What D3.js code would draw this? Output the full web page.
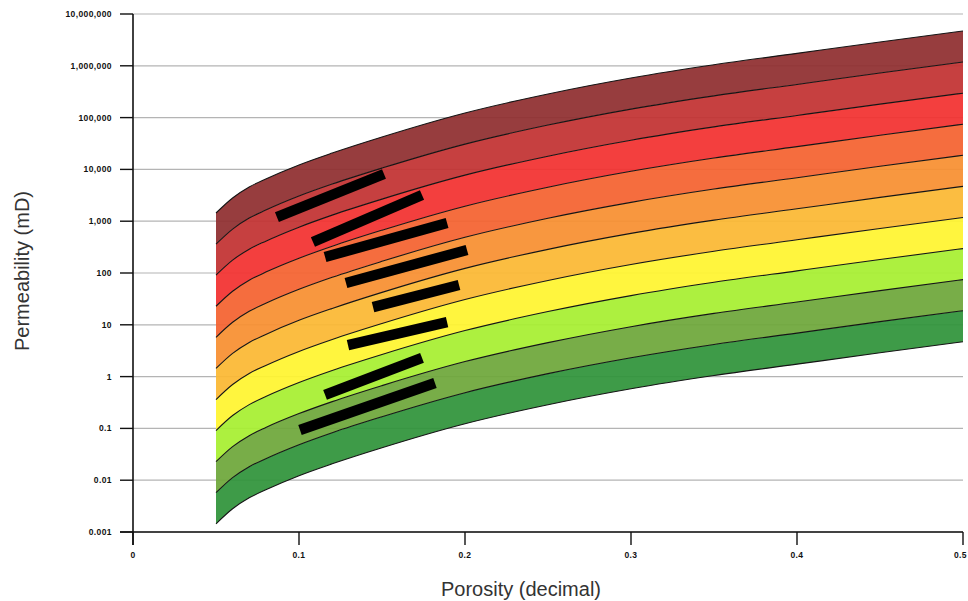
<!DOCTYPE html>
<html>
<head>
<meta charset="utf-8">
<script src="https://cdn.jsdelivr.net/npm/d3@7"></script>
<style>
body { margin: 0; background: #fff; }
</style>
</head>
<body>
<svg id="view" width="968" height="601"></svg>
<script>
// DATA
var POROSITY = [0.05, 0.06, 0.07, 0.08, 0.1, 0.12, 0.15, 0.2, 0.25, 0.3, 0.35, 0.4, 0.45, 0.5];

// permeability (mD) of each band boundary, top to bottom
var BOUNDARY_0 = [1440, 2810, 4570, 6530, 12200, 20700, 42300, 123000, 286000, 581000, 1047000, 1738000, 2884000, 4700000];
var BOUNDARY_1 = [361, 705, 1150, 1640, 3060, 5210, 10600, 30800, 71800, 146000, 263000, 437000, 724000, 1180000];
var BOUNDARY_2 = [90.8, 177, 288, 412, 767, 1310, 2670, 7750, 18000, 36600, 66100, 110000, 182000, 296000];
var BOUNDARY_3 = [22.8, 44.5, 72.4, 104, 193, 329, 670, 1950, 4530, 9200, 16600, 27500, 45700, 74500];
var BOUNDARY_4 = [5.73, 11.2, 18.2, 26.0, 48.4, 82.6, 168, 489, 1140, 2310, 4170, 6920, 11500, 18700];
var BOUNDARY_5 = [1.44, 2.81, 4.57, 6.53, 12.2, 20.7, 42.3, 123, 286, 581, 1047, 1738, 2884, 4700];
var BOUNDARY_6 = [0.361, 0.705, 1.15, 1.64, 3.06, 5.21, 10.6, 30.8, 71.8, 146, 263, 437, 724, 1180];
var BOUNDARY_7 = [0.0908, 0.177, 0.288, 0.412, 0.767, 1.31, 2.67, 7.74, 18.0, 36.6, 66.1, 110, 182, 296];
var BOUNDARY_8 = [0.0228, 0.0445, 0.0724, 0.104, 0.193, 0.329, 0.670, 1.95, 4.53, 9.20, 16.6, 27.5, 45.7, 74.5];
var BOUNDARY_9 = [0.00573, 0.0112, 0.0182, 0.026, 0.0484, 0.0826, 0.168, 0.489, 1.14, 2.31, 4.17, 6.92, 11.5, 18.7];
var BOUNDARY_10 = [0.00144, 0.00281, 0.00457, 0.00653, 0.0122, 0.0207, 0.0423, 0.123, 0.286, 0.581, 1.047, 1.738, 2.884, 4.70];

var BOUNDARIES = [BOUNDARY_0, BOUNDARY_1, BOUNDARY_2, BOUNDARY_3, BOUNDARY_4, BOUNDARY_5,
                  BOUNDARY_6, BOUNDARY_7, BOUNDARY_8, BOUNDARY_9, BOUNDARY_10];

var BAND_COLORS = [
    "#8f2e2f",
    "#c23131",
    "#f2302f",
    "#f4622f",
    "#f78f30",
    "#fbb833",
    "#fff42f",
    "#a7ef30",
    "#6ea73a",
    "#2f933a",
];

var Y_TICKS = [0.001, 0.01, 0.1, 1, 10, 100, 1000, 10000, 100000, 1000000, 10000000];
var Y_TICK_LABELS = ["0.001", "0.01", "0.1", "1", "10", "100", "1,000", "10,000", "100,000", "1,000,000", "10,000,000"];
var X_TICKS = [0, 0.1, 0.2, 0.3, 0.4, 0.5];
var X_TICK_LABELS = ["0", "0.1", "0.2", "0.3", "0.4", "0.5"];

// black marker strokes over the bands
var MARK_START_PHI = [0.0867, 0.1084, 0.1157, 0.1283, 0.1446, 0.1295, 0.1157, 0.1006];
var MARK_START_K = [1205, 396, 204, 64, 22, 4.07, 0.442, 0.0931];
var MARK_END_PHI = [0.1512, 0.1741, 0.1892, 0.2012, 0.1964, 0.1892, 0.1741, 0.1819];
var MARK_END_K = [8150, 3206, 922, 278, 58.6, 11.3, 2.29, 0.752];


// LAYOUT
var LEFT = 133;
var RIGHT = 963;
var TOP = 14;
var BOTTOM = 532;
var TICK = 13;


function main() {
    var svg = d3.select("#view");

    var x = d3.scaleLinear().domain([0, 0.5]).range([LEFT, RIGHT]);
    var y = d3.scaleLog().domain([0.001, 10000000]).range([BOTTOM, TOP]);

    // grid
    var grid = svg.append("g");
    grid.selectAll("line")
        .data(Y_TICKS)
        .enter().append("line")
        .attr("x1", LEFT)
        .attr("x2", RIGHT)
        .attr("y1", function(d) { return y(d); })
        .attr("y2", function(d) { return y(d); })
        .attr("stroke", "#b4b4b4")
        .attr("stroke-width", 1.2)
        ;

    // bands
    var bands = svg.append("g");
    for (var i = 0; i < BAND_COLORS.length; i++) {
        var upper = BOUNDARIES[i];
        var lower = BOUNDARIES[i + 1];
        var area = d3.area()
            .x(function(d, j) { return x(POROSITY[j]); })
            .y0(function(d, j) { return y(lower[j]); })
            .y1(function(d, j) { return y(upper[j]); })
            .curve(d3.curveMonotoneX);
        bands.append("path")
            .attr("d", area(POROSITY))
            .attr("fill", BAND_COLORS[i])
            .attr("fill-opacity", 0.93)
            ;
    }

    // boundary lines
    var lines = svg.append("g");
    for (var i = 0; i < BOUNDARIES.length; i++) {
        var values = BOUNDARIES[i];
        var line = d3.line()
            .x(function(d, j) { return x(POROSITY[j]); })
            .y(function(d, j) { return y(values[j]); })
            .curve(d3.curveMonotoneX);
        lines.append("path")
            .attr("d", line(POROSITY))
            .attr("fill", "none")
            .attr("stroke", "#151515")
            .attr("stroke-width", 1.1)
            ;
    }

    // markers
    var marks = svg.append("g");
    for (var i = 0; i < MARK_START_PHI.length; i++) {
        marks.append("line")
            .attr("x1", x(MARK_START_PHI[i]))
            .attr("y1", y(MARK_START_K[i]))
            .attr("x2", x(MARK_END_PHI[i]))
            .attr("y2", y(MARK_END_K[i]))
            .attr("stroke", "#000")
            .attr("stroke-width", 10.5)
            ;
    }

    // y axis
    var yAxis = svg.append("g");
    yAxis.append("line")
        .attr("x1", LEFT).attr("x2", LEFT)
        .attr("y1", TOP).attr("y2", BOTTOM + TICK)
        .attr("stroke", "#111")
        .attr("stroke-width", 1.6)
        ;
    yAxis.selectAll(".tick")
        .data(Y_TICKS)
        .enter().append("line")
        .attr("x1", LEFT - TICK)
        .attr("x2", LEFT)
        .attr("y1", function(d) { return y(d); })
        .attr("y2", function(d) { return y(d); })
        .attr("stroke", "#111")
        .attr("stroke-width", 1.4)
        ;
    yAxis.selectAll("text")
        .data(Y_TICKS)
        .enter().append("text")
        .attr("x", LEFT - 21)
        .attr("y", function(d) { return y(d) + 3; })
        .attr("text-anchor", "end")
        .attr("font-family", "Liberation Sans, Arial, sans-serif")
        .attr("font-size", 8.5)
        .attr("font-weight", "bold")
        .attr("letter-spacing", 0.4)
        .attr("fill", "#111")
        .text(function(d, i) { return Y_TICK_LABELS[i]; })
        ;

    // x axis
    var xAxis = svg.append("g");
    xAxis.append("line")
        .attr("x1", LEFT - TICK).attr("x2", RIGHT)
        .attr("y1", BOTTOM).attr("y2", BOTTOM)
        .attr("stroke", "#111")
        .attr("stroke-width", 1.6)
        ;
    xAxis.selectAll(".tick")
        .data(X_TICKS)
        .enter().append("line")
        .attr("x1", function(d) { return x(d); })
        .attr("x2", function(d) { return x(d); })
        .attr("y1", BOTTOM)
        .attr("y2", BOTTOM + TICK)
        .attr("stroke", "#111")
        .attr("stroke-width", 1.4)
        ;
    xAxis.selectAll("text")
        .data(X_TICKS)
        .enter().append("text")
        .attr("x", function(d, i) { return i === X_TICKS.length - 1 ? 967 : x(d); })
        .attr("y", BOTTOM + 26)
        .attr("text-anchor", function(d, i) { return i === X_TICKS.length - 1 ? "end" : "middle"; })
        .attr("font-family", "Liberation Sans, Arial, sans-serif")
        .attr("font-size", 8.5)
        .attr("font-weight", "bold")
        .attr("letter-spacing", 0.4)
        .attr("fill", "#111")
        .text(function(d, i) { return X_TICK_LABELS[i]; })
        ;

    // titles
    svg.append("text")
        .attr("transform", "translate(29,271) rotate(-90)")
        .attr("text-anchor", "middle")
        .attr("font-family", "Liberation Sans, Arial, sans-serif")
        .attr("font-size", 20)
        .attr("fill", "#333")
        .text("Permeability (mD)")
        ;
    svg.append("text")
        .attr("x", 521)
        .attr("y", 596)
        .attr("text-anchor", "middle")
        .attr("font-family", "Liberation Sans, Arial, sans-serif")
        .attr("font-size", 20)
        .attr("fill", "#333")
        .text("Porosity (decimal)")
        ;
}

main();
</script>
</body>
</html>
